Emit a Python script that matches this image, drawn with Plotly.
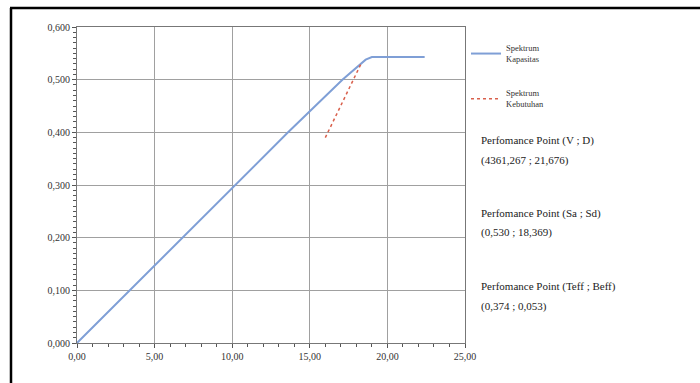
import plotly.graph_objects as go

# Capacity spectrum (Sd, Sa)
cap_sd = [0.0, 3.4, 6.8, 10.2, 13.6, 17.1, 18.0, 18.6, 19.0, 22.4]
cap_sa = [0.0, 0.1, 0.2, 0.3, 0.4, 0.5, 0.523, 0.538, 0.543, 0.543]
# Demand spectrum
dem_sd = [16.0, 18.3]
dem_sa = [0.39, 0.53]

x_ticks = [0, 5, 10, 15, 20, 25]
y_ticks = [0, 0.1, 0.2, 0.3, 0.4, 0.5, 0.6]

info_lines = [
    ("Perfomance Point (V ; D)", "(4361,267 ; 21,676)"),
    ("Perfomance Point (Sa ; Sd)", "(0,530 ; 18,369)"),
    ("Perfomance Point (Teff ; Beff)", "(0,374 ; 0,053)"),
]

FONT = "Liberation Serif"

fig = go.Figure()
fig.add_trace(go.Scatter(x=cap_sd, y=cap_sa, mode="lines", name="Spektrum<br>Kapasitas",
                         line=dict(color="#7f9fd6", width=2), legendgroup="a"))
fig.add_trace(go.Scatter(x=dem_sd, y=dem_sa, mode="lines", name="Spektrum<br>Kebutuhan",
                         line=dict(color="#d9604c", width=1.5, dash="dot"), legendgroup="b"))

L, R, T, B = 77, 235, 27, 40
W, H = 700, 383
pw, ph = W - L - R, H - T - B

def px(xp):
    return (xp - L) / pw

def py(yp):
    return (H - B - yp) / ph

y_pos = [140, 213, 286]
for (a, b), yp in zip(info_lines, y_pos):
    fig.add_annotation(x=px(479), y=py(yp), xref="paper", yref="paper", text=a,
                       showarrow=False, xanchor="left", yanchor="middle",
                       font=dict(family=FONT, size=11, color="#222"))
    fig.add_annotation(x=px(479), y=py(yp + 20), xref="paper", yref="paper", text=b,
                       showarrow=False, xanchor="left", yanchor="middle",
                       font=dict(family=FONT, size=11, color="#222"))

# outer frame (top and left edges)
fig.add_shape(type="line", xref="paper", yref="paper",
              x0=px(10), x1=px(700), y0=py(8), y1=py(8),
              line=dict(color="black", width=2.5))
fig.add_shape(type="line", xref="paper", yref="paper",
              x0=px(11), x1=px(11), y0=py(8), y1=py(383),
              line=dict(color="black", width=2.5))

fig.update_layout(
    width=W, height=H,
    margin=dict(l=L, r=R, t=T, b=B, autoexpand=False),
    paper_bgcolor="white", plot_bgcolor="white",
    separators=",.",
    font=dict(family=FONT, size=10, color="#333"),
    showlegend=True,
    legend=dict(x=px(466), y=py(36), xanchor="left", yanchor="top",
                font=dict(family=FONT, size=8.5, color="#333"),
                tracegroupgap=20, traceorder="grouped",
                bgcolor="rgba(0,0,0,0)"),
    xaxis=dict(range=[0, 25], tickvals=x_ticks, tickformat=".2f",
               showgrid=True, gridcolor="#a0a0a0", gridwidth=1,
               showline=True, linecolor="#777", linewidth=1, mirror=True,
               ticks="outside", ticklen=4, tickcolor="#555",
               minor=dict(dtick=1, ticks="outside", ticklen=3, tickcolor="#555", showgrid=False),
               zeroline=False),
    yaxis=dict(range=[0, 0.6], tickvals=y_ticks, tickformat=".3f",
               showgrid=True, gridcolor="#a0a0a0", gridwidth=1,
               showline=True, linecolor="#777", linewidth=1, mirror=True,
               ticks="outside", ticklen=4, tickcolor="#555",
               minor=dict(dtick=0.01, ticks="outside", ticklen=3, tickcolor="#555", showgrid=False),
               zeroline=False),
)

fig.write_html("out.html", config={"displayModeBar": False},
               post_script="document.body.style.margin='0';document.body.style.overflow='hidden';")
